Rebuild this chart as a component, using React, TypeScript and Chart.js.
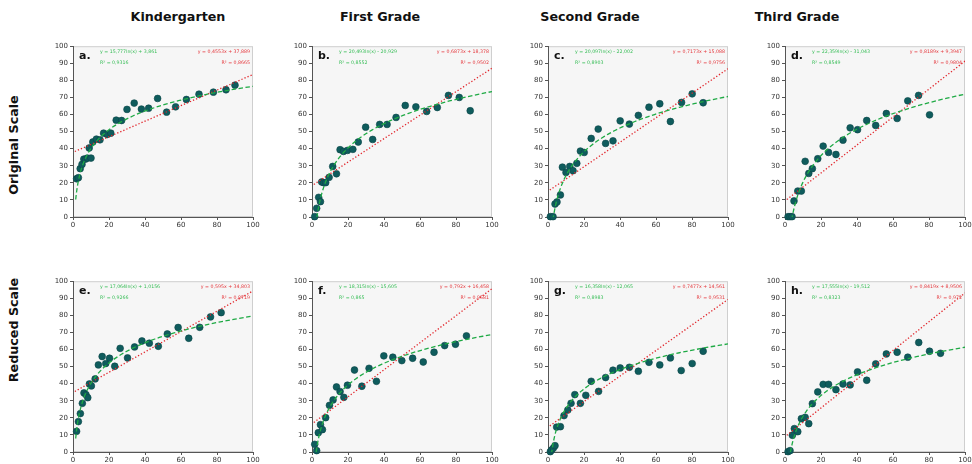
import React, { useEffect, useRef } from "react";
import { Chart, registerables } from "chart.js";

Chart.register(...registerables);

// ---------- labels ----------
const gradeTitles = ["Kindergarten", "First Grade", "Second Grade", "Third Grade"];
const rowLabels = ["Original Scale", "Reduced Scale"];
const panelLetters = ["a.", "b.", "c.", "d.", "e.", "f.", "g.", "h."];
const xTicks = [0, 20, 40, 60, 80, 100];
const yTicks = [0, 10, 20, 30, 40, 50, 60, 70, 80, 90, 100];

// ---------- data ----------
const aX = [2, 3, 4, 5, 6, 7, 8, 9, 10, 11, 13, 15, 17, 19, 21, 24, 27, 30, 34, 38, 42, 47, 52, 57, 63, 70, 78, 85, 90];
const aY = [22.4, 23, 28.3, 30.8, 33.9, 33.9, 34.5, 40.4, 34.5, 43.9, 45.6, 45.2, 49.1, 48.3, 49.1, 56.7, 56.5, 63, 66.7, 63.2, 63.7, 69.4, 61.4, 64.5, 68.8, 71.9, 73.1, 74.5, 77.2];

const bX = [1.5, 2.6, 3.7, 4.7, 5.4, 6.5, 7.6, 9.5, 11.5, 13.6, 15.6, 17.5, 19.7, 22.7, 25.7, 29.8, 33.7, 37.6, 41.7, 46.7, 51.8, 57.7, 63.7, 69.6, 75.8, 81.8, 87.9];
const bY = [0.2, 5.1, 11.5, 9, 20.5, 20.1, 20.1, 23.2, 29.6, 25.3, 39.4, 38.4, 39, 39.6, 43.9, 52.6, 45.4, 54.2, 54.2, 58.3, 65.3, 64.5, 61.8, 64.1, 71.2, 70, 62.2];

const cX = [1.3, 2.8, 3.9, 5, 6.9, 8, 10, 12.1, 13.9, 16, 18, 20.1, 24, 27.9, 32, 36.1, 40.1, 45.2, 50.2, 56.1, 62.1, 68, 74.2, 80.1, 86.2];
const cY = [0.2, 0.2, 7.6, 8.8, 12.9, 29.2, 26.1, 29.6, 27.1, 31.4, 38.6, 37.8, 46, 51.5, 43.1, 44.6, 56.3, 54.4, 59.5, 64.3, 66.3, 55.9, 67.1, 72.1, 66.9];

const dX = [1.7, 2.8, 3.9, 5, 7.1, 9.1, 11.2, 13.2, 15.2, 18.2, 21.2, 24.2, 28.3, 32.2, 36.2, 40.3, 45.4, 50.4, 56.3, 62.3, 68.2, 74.2, 80.3];
const dY = [0.2, 0.2, 0.2, 9.4, 15.2, 15.2, 32.6, 25.5, 28.3, 34.1, 41.5, 37.8, 36.6, 45, 52.2, 51.1, 56.5, 53.6, 60.6, 57.7, 68, 71.2, 59.8];

const eX = [2, 3, 4.1, 5.2, 6.1, 7.2, 8.2, 9.1, 10.2, 12.3, 14.1, 16.2, 18.2, 20.3, 23.2, 26.2, 30.3, 34.2, 38.3, 42.4, 47.4, 52.4, 58.4, 64.3, 70.4, 76.4, 82.3];
const eY = [12.1, 17.8, 22.5, 28.5, 34.6, 33.6, 31.8, 39.8, 38.7, 42.8, 51, 55.9, 51.8, 54.9, 50.2, 60.7, 55.1, 61.5, 65, 63.7, 61.9, 69.1, 72.9, 66.6, 73, 79.1, 81.6];

const fX = [1.5, 2.6, 3.5, 4.7, 5.8, 7.6, 9.7, 11.7, 13.6, 15.6, 17.7, 19.7, 23.6, 27.7, 31.7, 35.8, 39.9, 44.9, 49.9, 55.9, 61.8, 67.8, 73.7, 79.7, 85.8];
const fY = [4.5, 0.8, 11.3, 16, 13.1, 20.1, 27.3, 30.5, 38.1, 35.4, 32, 39.1, 48, 38.5, 49, 41.4, 56.3, 55.5, 53.5, 54.9, 52.7, 58.4, 62.3, 63.1, 68];

const gX = [1.3, 2, 3, 3.9, 4.8, 6.9, 8.9, 11, 12.8, 14.9, 18, 21, 24, 28.1, 32, 36.1, 40.1, 45.2, 50.2, 56.1, 62.1, 68, 74, 80.1, 86.2];
const gY = [0.2, 1.2, 2.3, 3.7, 14.6, 14.8, 21.3, 24.6, 28.5, 33.6, 28.5, 33.2, 41.4, 35.5, 43.6, 47.9, 49.2, 49.6, 47.3, 52.5, 51, 55.1, 47.7, 51.8, 59];

const hX = [1.7, 2.8, 4.1, 5.2, 7.1, 9.1, 11.2, 13.2, 15.2, 18.2, 21.2, 24.2, 28.3, 32.2, 36.2, 40.3, 45.4, 50.4, 56.3, 62.3, 68.2, 74.3, 80.3, 86.4];
const hY = [0.2, 0.8, 9.8, 13.7, 11.9, 19.5, 20.3, 16.6, 28.3, 35.2, 39.6, 39.6, 36.5, 39.8, 39.3, 46.9, 42, 51.6, 57.4, 58.4, 55.5, 64.1, 59, 57.8];

// fitted coefficients (as printed on the chart)
const logA = [15.777, 20.493, 20.097, 22.359, 17.064, 18.315, 16.358, 17.555];
const logB = [3.861, -20.929, -22.002, -31.043, 1.0156, -15.605, -12.065, -19.512];
const linM = [0.4553, 0.6873, 0.7173, 0.8189, 0.595, 0.792, 0.7477, 0.8419];
const linC = [37.889, 18.378, 15.088, 9.3947, 34.803, 16.458, 14.561, 8.9506];

const logEqText = [
  "y = 15,777ln(x) + 3,861",
  "y = 20,493ln(x) - 20,929",
  "y = 20,097ln(x) - 22,002",
  "y = 22,359ln(x) - 31,043",
  "y = 17,064ln(x) + 1,0156",
  "y = 18,315ln(x) - 15,605",
  "y = 16,358ln(x) - 12,065",
  "y = 17,555ln(x) - 19,512",
];
const logR2Text = ["0,9316", "0,8552", "0,8903", "0,8549", "0,9266", "0,865", "0,8983", "0,8323"];
const linEqText = [
  "y = 0,4553x + 37,889",
  "y = 0,6873x + 18,378",
  "y = 0,7173x + 15,088",
  "y = 0,8189x + 9,3947",
  "y = 0,595x + 34,803",
  "y = 0,792x + 16,458",
  "y = 0,7477x + 14,561",
  "y = 0,8419x + 8,9506",
];
const linR2Text = ["0,8665", "0,9502", "0,9756", "0,9804", "0,8719", "0,9581", "0,9531", "0,972"];

const panelXs = [aX, bX, cX, dX, eX, fX, gX, hX];
const panelYs = [aY, bY, cY, dY, eY, fY, gY, hY];

// ---------- layout ----------
const PLOT_LEFTS = [73, 312, 548, 785];
const PLOT_TOPS = [46, 281];
const PLOT_W = 180;
const PLOT_H = 171;
const Y_AXIS_W = 30;
const X_AXIS_H = 16;
const PAD_TOP = 6;
const PAD_RIGHT = 9;
const CANVAS_W = Y_AXIS_W + PLOT_W + PAD_RIGHT;
const CANVAS_H = PAD_TOP + PLOT_H + X_AXIS_H;
const TITLE_CENTERS = [178, 380, 590, 797];
const ROW_CENTERS = [145, 330];

const FONT = '"DejaVu Sans", "Liberation Sans", sans-serif';
const GREEN_TEXT = "#35bd55";
const RED_TEXT = "#e5383d";
const GREEN_LINE = "#1faa45";
const RED_LINE = "#e2262c";

const decorPlugin = {
  id: "panelDecor",
  beforeDraw(chart: any) {
    const { ctx, chartArea } = chart;
    const { left, top, right, bottom } = chartArea;
    ctx.save();
    ctx.fillStyle = "#f6f6f6";
    ctx.fillRect(left, top, right - left, bottom - top);
    ctx.strokeStyle = "#cfcfcf";
    ctx.lineWidth = 1;
    ctx.strokeRect(left + 0.5, top + 0.5, right - left - 1, bottom - top - 1);
    ctx.restore();
  },
  afterDraw(chart: any, _args: any, opts: any) {
    const { ctx, chartArea } = chart;
    const { left, top, right } = chartArea;
    ctx.save();
    ctx.textBaseline = "middle";
    ctx.fillStyle = "#111";
    ctx.font = `bold 11px ${FONT}`;
    ctx.textAlign = "left";
    ctx.fillText(opts.letter, left + 6, top + 10);
    ctx.font = `4.7px ${FONT}`;
    ctx.fillStyle = GREEN_TEXT;
    ctx.fillText(opts.logEq, left + 27, top + 6);
    ctx.fillText("R\u00b2 = " + opts.logR2, left + 27, top + 17);
    ctx.textAlign = "right";
    ctx.fillStyle = RED_TEXT;
    ctx.fillText(opts.linEq, right - 3, top + 6);
    ctx.fillText("R\u00b2 = " + opts.linR2, right - 3, top + 17);
    ctx.restore();
  },
};

function logCurve(i: number) {
  const pts: { x: number; y: number }[] = [];
  const x0 = 1.5;
  const n = 80;
  for (let k = 0; k <= n; k++) {
    const x = x0 * Math.pow(100 / x0, k / n);
    pts.push({ x, y: logA[i] * Math.log(x) + logB[i] });
  }
  return pts;
}

function linLine(i: number) {
  return [1, 100].map((x) => ({ x, y: linM[i] * x + linC[i] }));
}

function Panel({ i }: { i: number }) {
  const ref = useRef<HTMLCanvasElement>(null);
  const col = i % 4;
  const row = Math.floor(i / 4);
  useEffect(() => {
    if (!ref.current) return;
    const pts = panelXs[i].map((x, k) => ({ x, y: panelYs[i][k] }));
    const chart = new Chart(ref.current, {
      type: "scatter",
      data: {
        datasets: [
          {
            type: "line",
            data: logCurve(i),
            borderColor: GREEN_LINE,
            borderWidth: 1.3,
            borderDash: [4.5, 2.5],
            pointRadius: 0,
            fill: false,
            tension: 0,
            order: 1,
          } as any,
          {
            type: "line",
            data: linLine(i),
            borderColor: RED_LINE,
            borderWidth: 1.3,
            borderDash: [1.3, 2],
            pointRadius: 0,
            fill: false,
            order: 1,
          } as any,
          {
            data: pts,
            pointRadius: 3.4,
            pointBackgroundColor: "#0f5c5d",
            pointBorderColor: "#0a4546",
            pointBorderWidth: 0.6,
            clip: false,
            order: 2,
          } as any,
        ],
      },
      options: {
        animation: false,
        responsive: false,
        events: [],
        layout: { padding: { left: 0, right: PAD_RIGHT, top: PAD_TOP, bottom: 0 } },
        plugins: {
          legend: { display: false },
          tooltip: { enabled: false },
          panelDecor: {
            letter: panelLetters[i],
            logEq: logEqText[i],
            logR2: logR2Text[i],
            linEq: linEqText[i],
            linR2: linR2Text[i],
          },
        } as any,
        scales: {
          x: {
            type: "linear",
            min: 0,
            max: 100,
            afterFit: (axis: any) => {
              axis.height = X_AXIS_H;
            },
            afterBuildTicks: (axis: any) => {
              axis.ticks = xTicks.map((v) => ({ value: v }));
            },
            ticks: { font: { size: 7, family: FONT }, color: "#333", padding: 1, maxRotation: 0 },
            grid: { display: true, drawOnChartArea: false, drawTicks: true, tickLength: 3, color: "#555" },
            border: { display: true, color: "#555", width: 1 },
          },
          y: {
            type: "linear",
            min: 0,
            max: 100,
            afterFit: (axis: any) => {
              axis.width = Y_AXIS_W;
            },
            afterBuildTicks: (axis: any) => {
              axis.ticks = yTicks.map((v) => ({ value: v }));
            },
            ticks: { font: { size: 7, family: FONT }, color: "#333", padding: 2 },
            grid: { display: true, drawOnChartArea: false, drawTicks: true, tickLength: 3, color: "#555" },
            border: { display: true, color: "#555", width: 1 },
          },
        },
      },
      plugins: [decorPlugin],
    } as any);
    return () => chart.destroy();
  }, [i]);
  return (
    <canvas
      ref={ref}
      width={CANVAS_W}
      height={CANVAS_H}
      style={{
        position: "absolute",
        left: PLOT_LEFTS[col] - Y_AXIS_W,
        top: PLOT_TOPS[row] - PAD_TOP,
        width: CANVAS_W,
        height: CANVAS_H,
      }}
    />
  );
}

export default function App() {
  return (
    <div
      style={{
        position: "absolute",
        left: 0,
        top: 0,
        width: 972,
        height: 464,
        background: "#fff",
        overflow: "hidden",
        fontFamily: FONT,
      }}
    >
      {gradeTitles.map((t, c) => (
        <div
          key={t}
          style={{
            position: "absolute",
            left: TITLE_CENTERS[c] - 100,
            width: 200,
            top: 8,
            textAlign: "center",
            fontWeight: "bold",
            fontSize: 12.7,
            lineHeight: "18px",
            color: "#111",
          }}
        >
          {t}
        </div>
      ))}
      {rowLabels.map((t, r) => (
        <div
          key={t}
          style={{
            position: "absolute",
            left: 14 - 100,
            top: ROW_CENTERS[r] - 9,
            width: 200,
            height: 18,
            lineHeight: "18px",
            textAlign: "center",
            fontWeight: "bold",
            fontSize: 12.7,
            color: "#111",
            transform: "rotate(-90deg)",
            transformOrigin: "100px 9px",
          }}
        >
          {t}
        </div>
      ))}
      {panelLetters.map((_, i) => (
        <Panel key={i} i={i} />
      ))}
    </div>
  );
}
